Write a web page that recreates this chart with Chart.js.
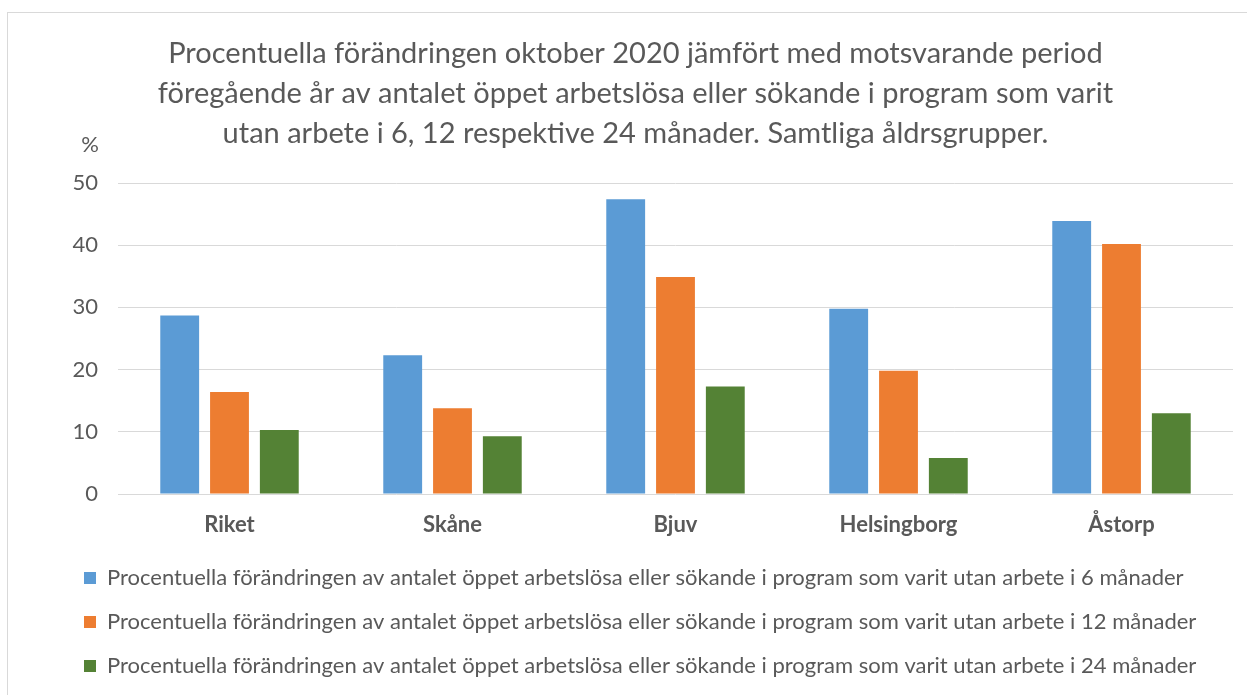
<!DOCTYPE html>
<html>
<head>
<meta charset="utf-8">
<script src="https://cdn.jsdelivr.net/npm/chart.js@4"></script>
<style>
  html, body { margin: 0; padding: 0; background: #fff; }
  #frame { position: absolute; left: 7px; top: 12px; width: 1400px; height: 800px; border: 1px solid #d9d9d9; box-sizing: border-box; }
  #wrap { position: absolute; left: 0; top: 0; width: 1247px; height: 695px; }
</style>
</head>
<body>
<div id="frame"></div>
<div id="wrap"><canvas id="unemployedchart"></canvas></div>
<script>
var categories = ['Riket', 'Skåne', 'Bjuv', 'Helsingborg', 'Åstorp']
var sixmonths = [28.7, 22.3, 47.4, 29.8, 43.9]
var twelvemonths = [16.4, 13.8, 34.9, 19.8, 40.2]
var twentyfourmonths = [10.3, 9.3, 17.3, 5.8, 13.0]
var yticks = [0, 10, 20, 30, 40, 50]

var serieslabels = [
  'Procentuella förändringen av antalet öppet arbetslösa eller sökande i program som varit utan arbete i 6 månader',
  'Procentuella förändringen av antalet öppet arbetslösa eller sökande i program som varit utan arbete i 12 månader',
  'Procentuella förändringen av antalet öppet arbetslösa eller sökande i program som varit utan arbete i 24 månader'
]
var titlelines = [
  'Procentuella förändringen oktober 2020 jämfört med motsvarande period',
  'föregående år av antalet öppet arbetslösa eller sökande i program som varit',
  'utan arbete i 6, 12 respektive 24 månader. Samtliga åldrsgrupper.'
]

var textcolor = '#595959'
var fontfamily = 'Lato, "Open Sans", sans-serif'

// "%" unit above the y labels; title is centred on the whole frame, not the padded area
const percentlabel = {
  id: 'percentlabel',
  afterLayout(chart) {
    chart.titleBlock.left -= 24
  },
  afterDraw(chart) {
    let ctx = chart.ctx
    let y = chart.scales.y
    ctx.save()
    ctx.fillStyle = textcolor
    ctx.font = '22px ' + fontfamily
    ctx.textAlign = 'right'
    ctx.textBaseline = 'middle'
    ctx.fillText('%', y.right - 19, chart.chartArea.top - 38)
    ctx.restore()
  }
}

var chartdata = {
  labels: categories,
  datasets: [
    { label: serieslabels[0], data: sixmonths, backgroundColor: '#5b9bd5' },
    { label: serieslabels[1], data: twelvemonths, backgroundColor: '#ed7d31' },
    { label: serieslabels[2], data: twentyfourmonths, backgroundColor: '#548235' }
  ]
}

const config = {
  type: 'bar',
  data: chartdata,
  options: {
    responsive: true,
    maintainAspectRatio: false,
    animation: false,
    datasets: { bar: { categoryPercentage: 0.67, barPercentage: 0.78 } },
    layout: { padding: { left: 62, right: 14, top: 0, bottom: 8 } },
    scales: {
      x: {
        grid: { display: false },
        border: { display: false },
        ticks: { color: textcolor, padding: 10, font: { family: fontfamily, size: 22, weight: 'bold' } },
        afterFit(scale) { scale.height = 51 }
      },
      y: {
        min: 0,
        max: 50,
        afterBuildTicks(scale) { scale.ticks = yticks.map(v => ({ value: v })) },
        grid: { color: '#d9d9d9', drawTicks: false },
        border: { display: false },
        ticks: { color: textcolor, padding: 20, font: { family: fontfamily, size: 22 } },
        afterFit(scale) { scale.width = 56 }
      }
    },
    plugins: {
      legend: {
        position: 'bottom',
        align: 'start',
        labels: {
          color: textcolor,
          boxWidth: 12,
          boxHeight: 12,
          padding: 22,
          font: { family: fontfamily, size: 22 }
        }
      },
      title: {
        display: true,
        text: titlelines,
        color: textcolor,
        padding: { top: 34, bottom: 29 },
        font: { family: fontfamily, size: 29, weight: 'normal', lineHeight: '40px' }
      },
      tooltip: { enabled: false }
    }
  },
  plugins: [percentlabel]
}

new Chart(document.getElementById('unemployedchart'), config)
</script>
</body>
</html>
